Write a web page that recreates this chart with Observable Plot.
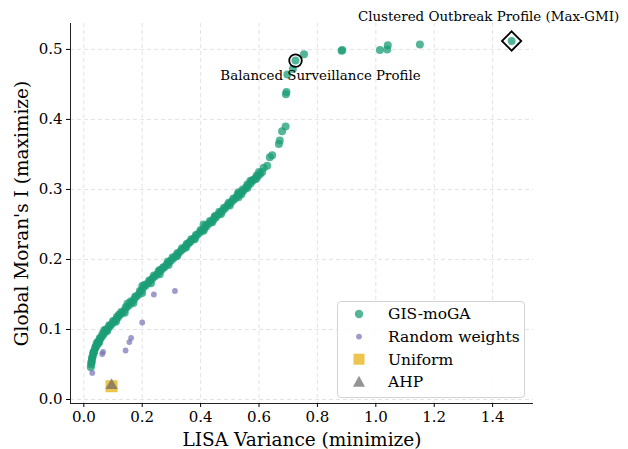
<!DOCTYPE html>
<html>
<head>
<meta charset="utf-8">
<script src="https://cdn.jsdelivr.net/npm/d3@7"></script>
<script src="https://cdn.jsdelivr.net/npm/@observablehq/plot@0.6"></script>
<style>
  html, body { margin: 0; padding: 0; background: #fff; }
  #wrap { position: relative; width: 628px; height: 449px; font-family: "DejaVu Serif", serif; }
  #legend { position: absolute; left: 337px; top: 301px; width: 188px; height: 97px;
    border: 1px solid #d4d4d4; border-radius: 4px; background: rgba(255,255,255,0.85); box-sizing: border-box; }
</style>
</head>
<body>
<div id="wrap"></div>
<script>
// GIS-moGA Pareto front (LISA variance, Global Moran's I)
const mogaX = [0.024,0.025,0.026,0.028,0.030,0.032,0.035,0.038,0.041,0.045,0.049,0.053,0.057,0.062,0.067,0.072,0.078,0.084,0.090,0.096,
  0.103,0.110,0.117,0.124,0.132,0.140,0.148,0.156,0.164,0.172,0.180,0.188,0.196,0.204,0.212,0.220,0.228,0.236,0.244,0.252,
  0.260,0.268,0.276,0.284,0.292,0.300,0.308,0.316,0.324,0.332,0.340,0.348,0.356,0.364,0.372,0.380,0.388,0.396,0.404,0.412,
  0.420,0.428,0.436,0.444,0.452,0.460,0.468,0.476,0.484,0.492,0.500,0.508,0.516,0.524,0.532,0.540,0.548,0.556,0.564,0.572,
  0.580,0.588,0.596,0.604,0.611,0.616,0.628,0.637,0.645,0.668,0.671,0.679,0.691,0.692,0.694,0.697,0.716,0.725,0.754,0.883,
  0.885,1.014,1.039,1.041,1.151,1.465,
  0.070,0.150,0.200,0.360,0.410,0.450,0.530,0.540,0.570,0.600,0.034,0.044,0.120,0.260,
  0.027,0.029,0.033,0.040,0.047,0.055,0.064,0.075,0.087,0.100,0.113,0.128,0.144,0.160,0.176,0.192,0.208,0.224,0.240,0.256,
  0.272,0.288,0.304,0.320,0.336,0.352,0.368,0.384,0.400,0.416,0.432,0.448,0.464,0.480,0.496,0.512,0.528,0.544,0.560,0.576,0.592,
  0.052,0.080,0.110,0.140,0.170,0.200,0.230,0.260,0.290,0.320,0.350,0.380,0.410,0.440,0.470,0.500,0.530,0.560,0.590];
const mogaY = [0.046,0.050,0.054,0.058,0.061,0.065,0.068,0.072,0.075,0.078,0.081,0.084,0.087,0.090,0.093,0.096,0.099,0.102,0.105,0.108,
  0.111,0.114,0.117,0.121,0.124,0.128,0.132,0.135,0.139,0.143,0.147,0.150,0.155,0.160,0.163,0.166,0.170,0.173,0.176,0.179,
  0.183,0.186,0.189,0.193,0.196,0.199,0.202,0.205,0.209,0.212,0.215,0.218,0.222,0.225,0.228,0.231,0.235,0.238,0.241,0.244,
  0.247,0.251,0.254,0.257,0.260,0.264,0.267,0.270,0.273,0.277,0.280,0.283,0.286,0.290,0.293,0.296,0.299,0.303,0.306,0.309,
  0.313,0.316,0.319,0.322,0.325,0.331,0.334,0.346,0.349,0.365,0.370,0.383,0.390,0.436,0.439,0.464,0.472,0.484,0.493,0.498,
  0.499,0.499,0.500,0.506,0.507,0.512,
  0.099,0.137,0.162,0.224,0.250,0.262,0.296,0.293,0.312,0.325,0.068,0.080,0.121,0.185,
  0.053,0.060,0.067,0.075,0.082,0.088,0.094,0.100,0.106,0.112,0.118,0.125,0.132,0.140,0.147,0.155,0.164,0.170,0.177,0.183,
  0.189,0.197,0.203,0.209,0.216,0.222,0.229,0.235,0.242,0.248,0.255,0.261,0.268,0.274,0.281,0.287,0.294,0.300,0.307,0.313,0.320,
  0.081,0.098,0.111,0.124,0.138,0.152,0.166,0.179,0.192,0.205,0.217,0.229,0.241,0.253,0.265,0.277,0.289,0.302,0.315];
// Random weights
const randX = [0.029,0.063,0.066,0.143,0.156,0.162,0.200,0.240,0.312];
const randY = [0.038,0.065,0.068,0.070,0.082,0.088,0.110,0.150,0.155];
// Baselines
const uniformX = [0.095], uniformY = [0.019];
const ahpX = [0.095], ahpY = [0.020];
// Highlighted profiles
const balancedX = [0.725], balancedY = [0.484];
const clusteredX = [1.465], clusteredY = [0.512];
const annotLabels = ["Balanced Surveillance Profile", "Clustered Outbreak Profile (Max-GMI)"];

const xTicks = [0, 0.2, 0.4, 0.6, 0.8, 1.0, 1.2, 1.4];
const yTicks = [0, 0.1, 0.2, 0.3, 0.4, 0.5];
const xDomain = [-0.0456, 1.540];
const yDomain = [-0.0057, 0.537];
const legendLabels = ["GIS-moGA", "Random weights", "Uniform", "AHP"];
const colors = { moga: "#1b9e77", rand: "#7570b3", uniform: "#e6ab02", ahp: "#666666" };

const zip = (xs, ys) => xs.map((x, i) => ({x, y: ys[i]}));
const moga = zip(mogaX, mogaY);
const rand = zip(randX, randY);
const uniform = zip(uniformX, uniformY);
const ahp = zip(ahpX, ahpY);
const balanced = zip(balancedX, balancedY).map(d => ({...d, label: annotLabels[0]}));
const clustered = zip(clusteredX, clusteredY).map(d => ({...d, label: annotLabels[1]}));

const chart = Plot.plot({
  width: 628, height: 449,
  marginLeft: 70, marginRight: 95, marginTop: 23, marginBottom: 46,
  style: { fontFamily: "DejaVu Serif, serif", background: "#fff", color: "#000" },
  x: { domain: xDomain },
  y: { domain: yDomain },
  marks: [
    Plot.gridX(xTicks, { stroke: "#dcdcdc", strokeOpacity: 1, strokeDasharray: "4,3", strokeWidth: 0.8 }),
    Plot.gridY(yTicks, { stroke: "#dcdcdc", strokeOpacity: 1, strokeDasharray: "4,3", strokeWidth: 0.8 }),
    Plot.ruleX([xDomain[0]], { stroke: "#222", strokeWidth: 1 }),
    Plot.ruleY([yDomain[0]], { stroke: "#222", strokeWidth: 1 }),
    Plot.axisX({ ticks: xTicks, tickFormat: d3.format(".1f"), tickSize: 4, tickPadding: 4, fontSize: 15,
      label: "LISA Variance (minimize)", labelAnchor: "center", labelArrow: "none", labelOffset: 42 }),
    Plot.axisY({ ticks: yTicks, tickFormat: d3.format(".1f"), tickSize: 4, tickPadding: 4, fontSize: 15,
      label: "Global Moran's I (maximize)", labelAnchor: "center", labelArrow: "none", labelOffset: 56 }),
    Plot.dot(moga, { x: "x", y: "y", r: 4, fill: colors.moga, fillOpacity: 0.75 }),
    Plot.dot(rand, { x: "x", y: "y", r: 2.9, fill: colors.rand, fillOpacity: 0.7 }),
    Plot.dot(uniform, { x: "x", y: "y", r: 6.8, symbol: "square", fill: colors.uniform, fillOpacity: 0.7 }),
    Plot.dot(ahp, { x: "x", y: "y", r: 4.6, symbol: "triangle", fill: colors.ahp, fillOpacity: 0.7 }),
    Plot.dot(balanced, { x: "x", y: "y", r: 6.3, fill: "none", stroke: "#000", strokeWidth: 1.8 }),
    Plot.dot(clustered, { x: "x", y: "y", r: 8.7, symbol: "diamond2", fill: "none", stroke: "#000", strokeWidth: 1.8 }),
    Plot.text(balanced, { x: "x", y: "y", text: "label", dx: 25, dy: 15, fontSize: 13.4, fill: "#000" }),
    Plot.text(clustered, { x: "x", y: "y", text: "label", dx: -23, dy: -24, fontSize: 13.4, fill: "#000" })
  ]
});

const wrap = document.getElementById("wrap");
wrap.appendChild(chart);
d3.select(chart).selectAll("g[aria-label='x-axis label'] text, g[aria-label='y-axis label'] text").style("font-size", "18.5px");

// Legend overlay
const leg = document.createElement("div");
leg.id = "legend";
wrap.appendChild(leg);
const ls = d3.select(leg).append("svg").attr("width", 188).attr("height", 97)
  .style("position", "absolute").style("left", "-1px").style("top", "-1px");
const rowY = i => 13 + i * 22.6;
const mx = 22, tx = 51;
ls.append("circle").attr("cx", mx).attr("cy", rowY(0)).attr("r", 4.2).attr("fill", colors.moga).attr("fill-opacity", 0.75);
ls.append("circle").attr("cx", mx).attr("cy", rowY(1)).attr("r", 2.9).attr("fill", colors.rand).attr("fill-opacity", 0.7);
ls.append("rect").attr("x", mx - 5.5).attr("y", rowY(2) - 5.5).attr("width", 11).attr("height", 11).attr("fill", colors.uniform).attr("fill-opacity", 0.7);
ls.append("path").attr("d", `M${mx},${rowY(3) - 6} L${mx + 6},${rowY(3) + 5} L${mx - 6},${rowY(3) + 5} Z`).attr("fill", colors.ahp).attr("fill-opacity", 0.7);
legendLabels.forEach((t, i) => {
  ls.append("text").attr("x", tx).attr("y", rowY(i)).attr("dy", "0.35em")
    .style("font-family", "DejaVu Serif, serif").style("font-size", "15.5px").text(t);
});
</script>
</body>
</html>
